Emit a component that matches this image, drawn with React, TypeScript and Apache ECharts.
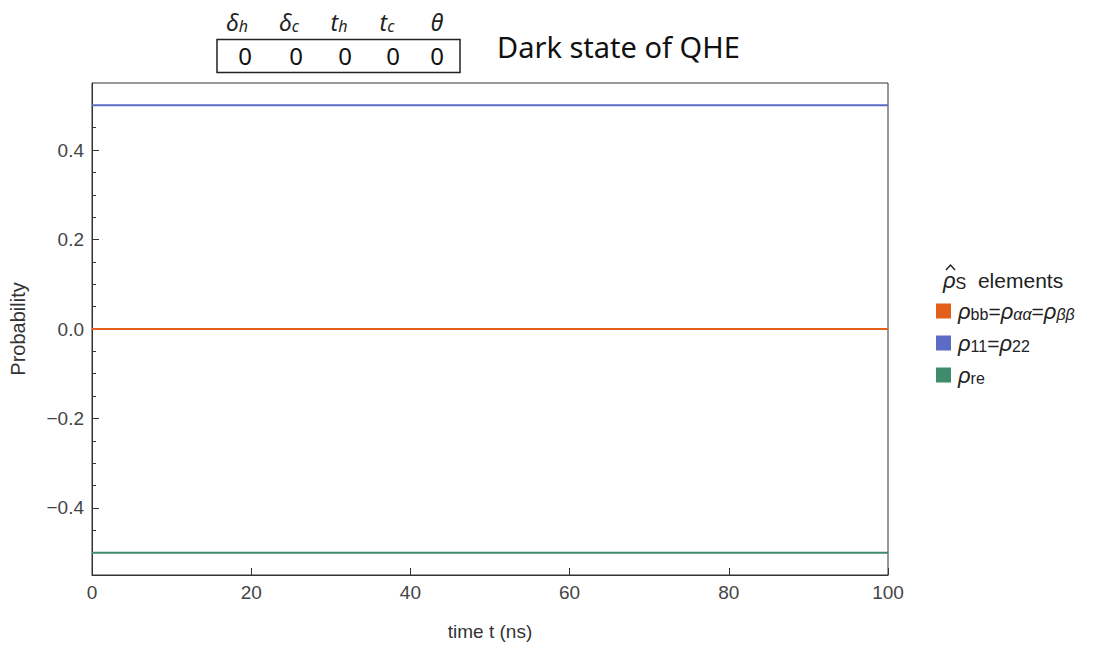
import React, { useEffect, useRef } from "react";
import * as echarts from "echarts";

const timeNs = [0, 100];
const rhoBB = [0, 0];
const rho11 = [0.5, 0.5];
const rhoRe = [-0.5, -0.5];
const seriesNames = ["rhoBB", "rho11", "rhoRe"];
const seriesColors = ["#E2601A", "#5B6BC6", "#3F8C6C"];
const xTicks = [0, 20, 40, 60, 80, 100];
const yMajor = [-0.4, -0.2, 0, 0.2, 0.4];
const yMinor = [-0.55, -0.5, -0.45, -0.35, -0.3, -0.25, -0.15, -0.1, -0.05, 0.05, 0.1, 0.15, 0.25, 0.3, 0.35, 0.45, 0.5];
const paramHeaders = [
  ["δ", "h"],
  ["δ", "c"],
  ["t", "h"],
  ["t", "c"],
  ["θ", ""],
];
const paramValues = ["0", "0", "0", "0", "0"];

const FONT = "Liberation Sans, Arial, sans-serif";
const UIFONT = "Noto Sans, Open Sans, sans-serif";

export default function App() {
  const ref = useRef<HTMLDivElement>(null);
  useEffect(() => {
    if (!ref.current) return;
    const chart = echarts.init(ref.current, null, { renderer: "svg" });
    const mk = (ys: number[]) => timeNs.map((t, i) => [t, ys[i]]);
    const headX = [237, 289, 339, 387, 437];
    const valX = [245, 296, 345, 393, 437];
    const graphics: any[] = [];
    paramHeaders.forEach((h, i) => {
      graphics.push({
        type: "text",
        x: headX[i],
        y: 22,
        style: {
          text: h[1] ? `{m|${h[0]}}{s|${h[1]}}` : `{m|${h[0]}}`,
          align: "center",
          verticalAlign: "middle",
          rich: {
            m: { fontSize: 23, fontStyle: "italic", fontFamily: UIFONT, fill: "#222", verticalAlign: "bottom" },
            s: { fontSize: 16, fontStyle: "italic", fontFamily: UIFONT, fill: "#222", verticalAlign: "bottom" },
          },
        },
      });
      graphics.push({
        type: "text",
        x: valX[i],
        y: 55,
        style: {
          text: paramValues[i],
          fontSize: 24,
          fontFamily: UIFONT,
          fill: "#111",
          align: "center",
          verticalAlign: "middle",
        },
      });
    });
    graphics.push({
      type: "rect",
      shape: { x: 217, y: 39.5, width: 243, height: 33 },
      style: { fill: "none", stroke: "#222", lineWidth: 1.5 },
    });
    graphics.push({
      type: "text",
      x: 497,
      y: 46,
      style: {
        text: "Dark state of QHE",
        fontSize: 29,
        fontFamily: UIFONT,
        fill: "#111",
        verticalAlign: "middle",
      },
    });
    // legend title: rho-hat S elements
    graphics.push({
      type: "text",
      x: 943,
      y: 280,
      style: {
        text: "{r|ρ}{s|S}{t|  elements}",
        verticalAlign: "middle",
        rich: {
          r: { fontSize: 22, fontStyle: "italic", fontFamily: FONT, fill: "#222", verticalAlign: "bottom" },
          s: { fontSize: 16, fontFamily: FONT, fill: "#222", verticalAlign: "bottom" },
          t: { fontSize: 21, fontFamily: FONT, fill: "#222", verticalAlign: "bottom" },
        },
      },
    });
    graphics.push({
      type: "polyline",
      shape: { points: [[946, 270], [950.5, 265], [955, 270]] },
      style: { stroke: "#222", lineWidth: 1.5, fill: "none" },
    });

    const legendRich = {
      sp: { width: 2 },
      r: { fontSize: 22, fontStyle: "italic", fontFamily: FONT, color: "#222", verticalAlign: "bottom", lineHeight: 22 },
      s: { fontSize: 16, fontFamily: FONT, color: "#222", verticalAlign: "bottom", lineHeight: 22 },
      g: { fontSize: 16, fontStyle: "italic", fontFamily: FONT, color: "#222", verticalAlign: "bottom", lineHeight: 22 },
      e: { fontSize: 21, fontFamily: FONT, color: "#222", verticalAlign: "bottom", lineHeight: 22 },
    };
    const legendText: Record<string, string> = {
      rhoBB: "{sp|}{r|ρ}{s|bb}{e|=}{r|ρ}{g|αα}{e|=}{r|ρ}{g|ββ}",
      rho11: "{sp|}{r|ρ}{s|11}{e|=}{r|ρ}{s|22}",
      rhoRe: "{sp|}{r|ρ}{s|re}",
    };

    chart.setOption({
      animation: false,
      backgroundColor: "#ffffff",
      grid: {
        left: 92,
        right: 210,
        top: 83,
        bottom: 67,
        show: true,
        borderColor: "#333",
        borderWidth: 1,
      },
      legend: {
        orient: "vertical",
        left: 931,
        top: 295,
        itemWidth: 15,
        itemHeight: 15,
        itemGap: 10,
        icon: "rect",
        data: seriesNames,
        formatter: (n: string) => legendText[n],
        textStyle: { rich: legendRich },
      },
      xAxis: {
        type: "value",
        min: 0,
        max: 100,
        interval: 20,
        name: "time t (ns)",
        nameLocation: "middle",
        nameGap: 47,
        nameTextStyle: { fontSize: 19, fontFamily: FONT, color: "#333" },
        axisLine: { show: true, onZero: false, lineStyle: { color: "#333", width: 1 } },
        axisTick: { show: true, inside: true, length: 7, lineStyle: { color: "#333" } },
        axisLabel: { fontSize: 19, fontFamily: FONT, color: "#444", margin: 8, customValues: xTicks },
        splitLine: { show: false },
      },
      yAxis: [
        {
          type: "value",
          min: -0.55,
          max: 0.55,
          name: "Probability",
          nameLocation: "middle",
          nameGap: 64,
          nameRotate: 90,
          nameTextStyle: { fontSize: 20, fontFamily: FONT, color: "#333" },
          axisLine: { show: true, onZero: false, lineStyle: { color: "#333", width: 1 } },
          axisTick: { show: true, inside: true, length: 7, lineStyle: { color: "#333" }, customValues: yMajor },
          axisLabel: {
            fontSize: 19,
            fontFamily: FONT,
            color: "#444",
            margin: 8,
            customValues: yMajor,
            formatter: (v: number) => (v < -1e-9 ? "−" : "") + Math.abs(v).toFixed(1),
          },
          splitLine: { show: false },
        },
        {
          type: "value",
          min: -0.55,
          max: 0.55,
          position: "left",
          offset: 0,
          axisLine: { show: false, onZero: false },
          axisTick: { show: true, inside: true, length: 4, lineStyle: { color: "#333" }, customValues: yMinor },
          axisLabel: { show: false, customValues: yMinor },
          splitLine: { show: false },
        },
      ],
      series: [
        { name: seriesNames[0], type: "line", data: mk(rhoBB), color: seriesColors[0], symbol: "none", lineStyle: { width: 2 }, yAxisIndex: 0 },
        { name: seriesNames[1], type: "line", data: mk(rho11), color: seriesColors[1], symbol: "none", lineStyle: { width: 2 }, yAxisIndex: 0 },
        { name: seriesNames[2], type: "line", data: mk(rhoRe), color: seriesColors[2], symbol: "none", lineStyle: { width: 2 }, yAxisIndex: 0 },
      ],
      graphic: graphics,
    });
    return () => chart.dispose();
  }, []);
  return <div ref={ref} style={{ position: "fixed", left: 0, top: 0, width: 1098, height: 646 }} />;
}
